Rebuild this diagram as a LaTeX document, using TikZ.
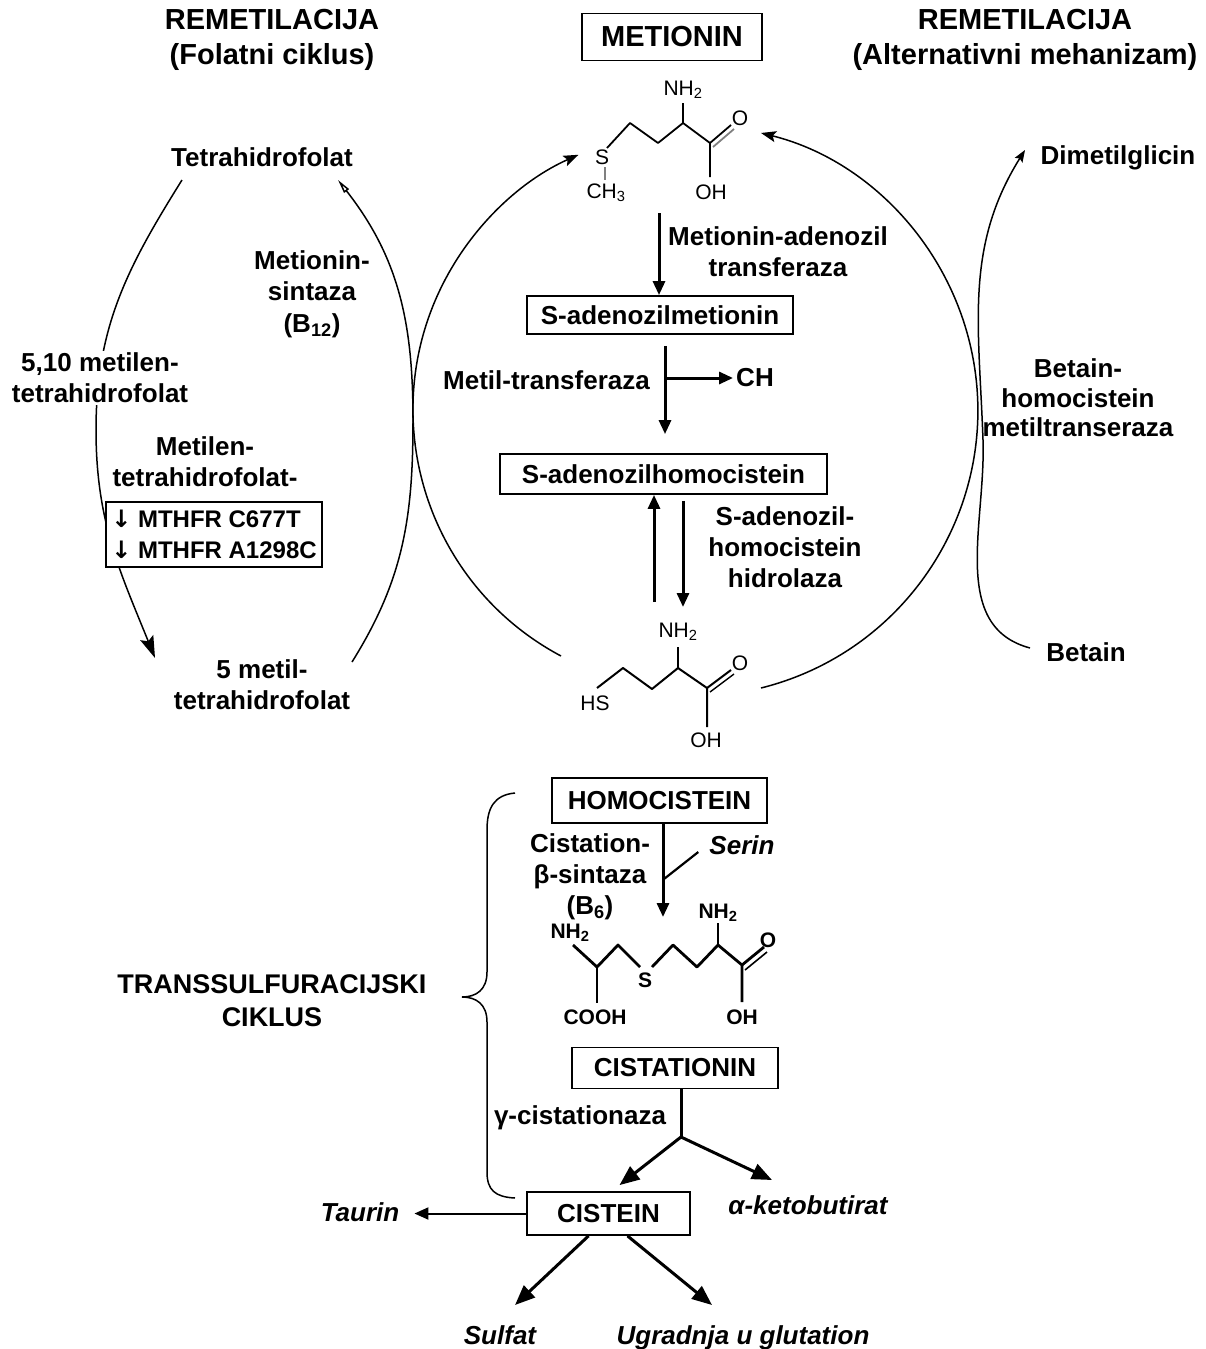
\documentclass[tikz,border=0pt]{standalone}
\usepackage{fontspec}
\setmainfont{Liberation Sans}
\newfontfamily\arrfont{DejaVu Sans}
\usetikzlibrary{arrows.meta}

\begin{document}
\begin{tikzpicture}[x=1pt,y=1pt,
    lbl/.style={font=\fontsize{26}{31}\selectfont\bfseries, align=center, inner sep=0pt},
    ttl/.style={font=\fontsize{29}{35}\selectfont\bfseries, align=center, inner sep=0pt},
    itl/.style={font=\fontsize{26}{31}\selectfont\bfseries\itshape, inner sep=0pt},
    box/.style={draw, line width=1.8pt, fill=white, inner sep=0pt},
    atom/.style={font=\fontsize{21}{21}\selectfont, inner sep=0pt},
    atomb/.style={font=\fontsize{21}{21}\selectfont\bfseries, inner sep=0pt},
    bond/.style={line width=1.8pt, line join=round},
    thk/.style={line width=3pt, -{Triangle[length=14pt,width=12pt]}},
    big/.style={line width=3pt, -{Triangle[length=20pt,width=16pt]}},
    cyc/.style={line width=1.5pt, -{Stealth[length=15pt,width=11pt,inset=3pt]}}]

\useasboundingbox (0,0) rectangle (1205,-1349);

% methionine cycle arcs
\coordinate (hcyL) at (561,-656);
\coordinate (hcyR) at (761,-688);
\draw[cyc] (hcyL) arc[start angle=242, end angle=114, radius=279pt];
\draw[cyc] (hcyR) arc[start angle=-76, end angle=76, radius=286pt];

% folate cycle
\coordinate (thfL) at (182,-180);
\coordinate (mthfT) at (155,-658);
\coordinate (mthfR) at (352,-662);
\coordinate (thfR) at (338,-180);
\draw[line width=1.5pt, -{Stealth[length=22pt,width=14pt,inset=4pt]}] (thfL) to[out=238,in=90] (96,-430) to[out=-90,in=112] (mthfT);
\draw[line width=1.5pt, -{Triangle[open,length=14pt,width=6pt]}] (mthfR) to[out=58,in=-90] (413,-420) to[out=90,in=-52] (thfR);

% betain
\coordinate (betL) at (1030,-648);
\coordinate (dmgL) at (1025,-150);
\draw[line width=1.5pt, -{Stealth[length=12pt,width=9pt,inset=2pt]}] (betL) to[out=165,in=-88] (983,-440) to[out=92,in=238] (dmgL);

% titles
\node[ttl] (remF) at (272,-40) {REMETILACIJA\\(Folatni ciklus)};
\node[ttl] (remA) at (1025,-40) {REMETILACIJA\\(Alternativni mehanizam)};
\node[box, ttl, minimum width=180pt, minimum height=47pt] (met) at (672,-37) {METIONIN};

% folate side
\node[lbl] (thf) at (262,-157) {Tetrahidrofolat};
\node[lbl, font=\fontsize{26}{31.5}\selectfont\bfseries] (ms) at (312,-294) {Metionin-\\sintaza\\(B\textsubscript{12})};
\node[lbl, fill=white, inner sep=2pt] (mthf) at (100,-378) {5,10 metilen-\\tetrahidrofolat};
\node[lbl] (mtr) at (205,-462) {Metilen-\\tetrahidrofolat-};
\node[box, font=\fontsize{24}{31}\selectfont\bfseries, align=left, minimum width=216pt, minimum height=65pt] (mthfr) at (214,-534.5) {{\arrfont\bfseries ↓} MTHFR C677T\\{\arrfont\bfseries ↓} MTHFR A1298C};
\node[lbl] (mthf5) at (262,-685) {5 metil-\\tetrahidrofolat};

% middle
\node[lbl] (mat) at (778,-252) {Metionin-adenozil\\transferaza};
\node[box, lbl, minimum width=266pt, minimum height=38pt] (sam) at (660,-315) {S-adenozilmetionin};
\node[lbl, anchor=east] (mtf) at (650,-380) {Metil-transferaza};
\node[lbl] (ch) at (755,-378) {CH};
\node[box, lbl, minimum width=327pt, minimum height=40pt] (sah) at (663.5,-474) {S-adenozilhomocistein};
\node[lbl] (sahh) at (785,-547) {S-adenozil-\\homocistein\\hidrolaza};

% alternative side
\node[lbl] (dmg) at (1118,-158) {Dimetilglicin};
\node[lbl, font=\fontsize{26}{29.5}\selectfont\bfseries] (bhmt) at (1078,-398) {Betain-\\homocistein\\metiltranseraza};
\node[lbl] (bet) at (1086,-652) {Betain};

% transsulfuration
\node[box, lbl, minimum width=215pt, minimum height=45pt] (hcy) at (659.5,-800.5) {HOMOCISTEIN};
\node[lbl] (cbs) at (590,-877) {Cistation-\\β-sintaza\\(B\textsubscript{6})};
\node[itl] (ser) at (742,-845) {Serin};
\node[ttl, font=\fontsize{27}{33}\selectfont\bfseries] (tsc) at (272,-1001) {TRANSSULFURACIJSKI\\CIKLUS};
\node[box, lbl, minimum width=206pt, minimum height=41pt] (cth) at (675,-1068) {CISTATIONIN};
\node[lbl] (gcs) at (580,-1118) {γ-cistationaza};
\node[box, lbl, minimum width=163pt, minimum height=43pt] (cys) at (608.5,-1213.5) {CISTEIN};
\node[itl] (akb) at (808,-1205) {α-ketobutirat};
\node[itl] (tau) at (360,-1212) {Taurin};
\node[itl, anchor=base] (sul) at (500,-1344) {Sulfat};
\node[itl, anchor=base] (glu) at (743,-1344) {Ugradnja u glutation};

% methionine
\node[atom] (mNH) at (683,-90) {NH\textsubscript{2}};
\node[atom] (mO) at (740,-118) {O};
\node[atom] (mS) at (602,-157) {S};
\node[atom] (mCH) at (606,-193) {CH\textsubscript{3}};
\node[atom] (mOH) at (711,-192) {OH};
\draw[bond] (607,-148) -- (630,-123) -- (658,-143) -- (683,-123) -- (710,-143) -- (710,-177);
\draw[bond] (683,-123) -- (683,-103);
\draw[bond] (710,-143) -- (731,-125);
\draw[bond, gray] (713,-147) -- (734,-129);
\draw[bond, gray] (605,-167) -- (605,-180);

% homocysteine
\node[atom] (hNH) at (678,-632) {NH\textsubscript{2}};
\node[atom] (hO) at (740,-663) {O};
\node[atom] (hHS) at (595,-703) {HS};
\node[atom] (hOH) at (706,-740) {OH};
\draw[bond, line width=2pt] (597,-688) -- (623,-668) -- (652,-689) -- (678,-668) -- (707,-688) -- (707,-727);
\draw[bond, line width=2pt] (678,-668) -- (678,-647);
\draw[bond, line width=2pt] (707,-688) -- (731,-670);
\draw[bond, line width=1.4pt] (710,-692) -- (734,-674);

% cystathionine
\node[atomb] (cNHa) at (570,-933) {NH\textsubscript{2}};
\node[atomb] (cS) at (645,-980) {S};
\node[atomb] (cNHb) at (718,-913) {NH\textsubscript{2}};
\node[atomb] (cO) at (768,-940) {O};
\node[atomb] (cCOOH) at (595,-1017) {COOH};
\node[atomb] (cOH) at (742,-1017) {OH};
\draw[bond, line width=2.8pt] (573,-945) -- (597,-967) -- (618,-945) -- (640,-967);
\draw[bond, line width=2.8pt] (652,-967) -- (673,-945) -- (697,-967) -- (718,-945) -- (742,-965) -- (742,-1002);
\draw[bond, line width=2.8pt] (718,-945) -- (718,-923);
\draw[bond, line width=2.8pt] (742,-965) -- (764,-947);
\draw[bond, line width=1.6pt] (745,-970) -- (767,-952);
\draw[bond, line width=2.8pt] (597,-967) -- (597,-1003);

% connectors
\coordinate (metB) at (659,-213);
\draw[thk] (metB) -- (metB |- sam.north);
\draw[thk, shorten <=11pt, shorten >=19pt] ([xshift=5pt]sam.south) -- ([xshift=5pt]sam.south |- sah.north);
\draw[thk] ([xshift=5pt]sam.south |- ch.west) -- ([xshift=-3pt]ch.west);
\coordinate (hcyU) at (654,-602);
\coordinate (hcyD) at (683,-607);
\draw[thk] (hcyU) -- (hcyU |- sah.south);
\draw[thk, shorten <=6pt] (hcyD |- sah.south) -- (hcyD);
\coordinate (cthT) at (663,-917);
\draw[thk] (cthT |- hcy.south) -- (cthT);
\coordinate (serJ) at (664,-879);
\draw[line width=2.2pt] (serJ) -- ([shift={(-11pt,-7pt)}]ser.west);
\coordinate (gJ) at (681,-1137);
\draw[line width=3pt] (gJ |- cth.south) -- (gJ);
\draw[big] (gJ) -- ([shift={(11pt,6pt)}]cys.north);
\coordinate (akbT) at (772,-1180);
\draw[big] (gJ) -- (akbT);
\draw[line width=2pt, -{Triangle[length=14pt,width=12pt]}, shorten >=15pt] (cys.west) -- (cys.west -| tau.east);
\coordinate (sulT) at (515,-1305);
\coordinate (gluT) at (712,-1305);
\draw[big] ([xshift=-20pt]cys.south) -- (sulT);
\draw[big] ([xshift=19pt]cys.south) -- (gluT);

% brace
\draw[line width=1.5pt] (515,-793) .. controls (494,-795) and (487,-808) .. (487,-830) -- (487,-972) .. controls (487,-990) and (476,-997) .. (462,-997) .. controls (476,-997) and (487,-1004) .. (487,-1022) -- (487,-1172) .. controls (487,-1190) and (495,-1197) .. (515,-1198);

\end{tikzpicture}
\end{document}
